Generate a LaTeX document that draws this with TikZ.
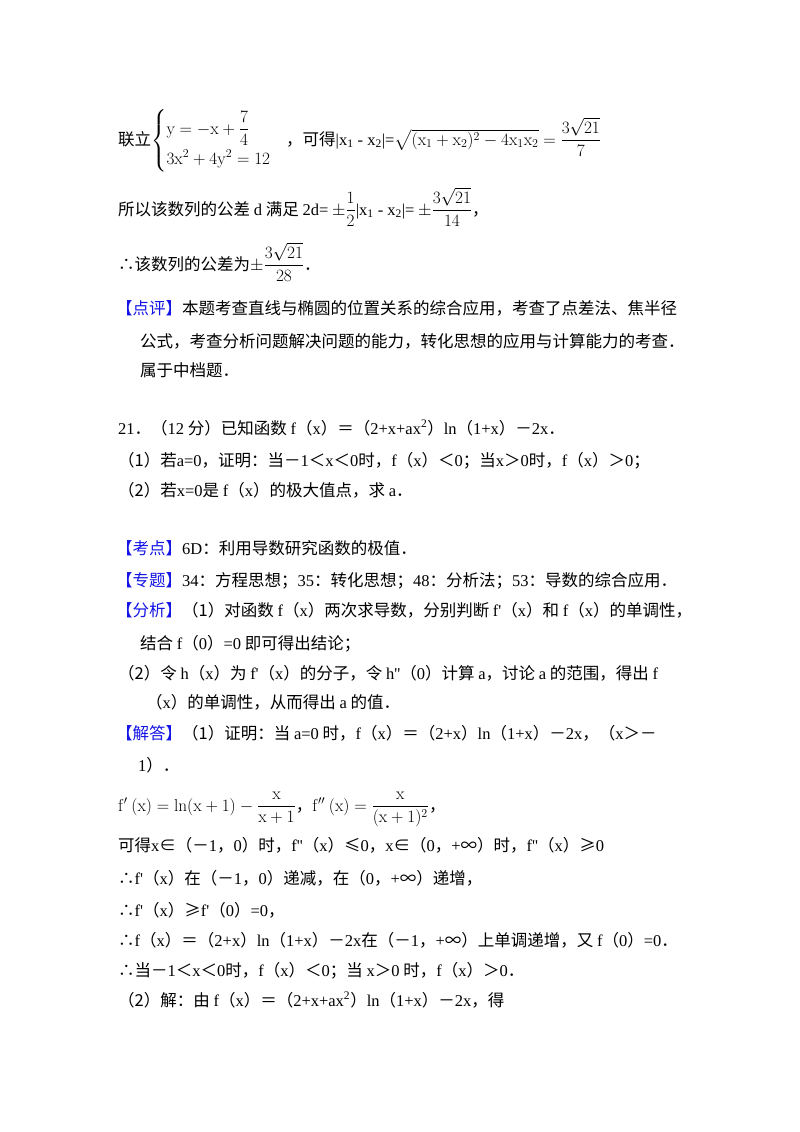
\documentclass[tikz,border=0pt]{standalone}
\usepackage{amsmath}
\usepackage[no-math]{fontspec}
\setmainfont{Noto Sans CJK SC}
\newfontfamily\en{Liberation Serif}
\newcommand{\E}[1]{{\en #1}}
\definecolor{tagblue}{RGB}{20,20,230}
\newcommand{\tg}[1]{\textcolor{tagblue}{【#1】}}
\begin{document}
\begin{tikzpicture}[x=1pt,y=-1pt,
  ln/.style={anchor=base west,inner sep=0pt,font=\fontsize{16.5}{20}\selectfont}]
\useasboundingbox[fill=white] (0,0) rectangle (800,1132);
\node[ln] (l1) at (118,145) {联立$\left\{\begin{array}{@{}l}\mathrm{y}=-\mathrm{x}+\dfrac{7}{4}\\[10pt] 3\mathrm{x}^2+4\mathrm{y}^2=12\end{array}\right.$\hspace{0.6em}，可得\E{|x\textsubscript{1} - x\textsubscript{2}|=}$\sqrt{(\mathrm{x}_1+\mathrm{x}_2)^2-4\mathrm{x}_1\mathrm{x}_2}=\dfrac{3\sqrt{21}}{7}$};
\node[ln] (l2) at (118,215) {所以该数列的公差 \E{d} 满足 \E{2d=} $\pm\dfrac{1}{2}$\E{|x\textsubscript{1} - x\textsubscript{2}|=} $\pm\dfrac{3\sqrt{21}}{14}$，};
\node[ln] (l3) at (118,270) {∴该数列的公差为$\pm\dfrac{3\sqrt{21}}{28}$．};
\node[ln] (l4) at (116,314) {\tg{点评}本题考查直线与椭圆的位置关系的综合应用，考查了点差法、焦半径};
\node[ln] (l5) at (140,347) {公式，考查分析问题解决问题的能力，转化思想的应用与计算能力的考查．};
\node[ln] (l6) at (140,376) {属于中档题．};
\node[ln] (l7) at (118,434) {\E{21}．（\E{12} 分）已知函数 \E{f}（\E{x}）＝（\E{2+x+ax\textsuperscript{2}}）\E{ln}（\E{1+x}）－\E{2x}．};
\node[ln] (l8) at (118,466) {（1）若\E{a=0}，证明：当－\E{1}＜\E{x}＜\E{0}时，\E{f}（\E{x}）＜\E{0}；当\E{x}＞\E{0}时，\E{f}（\E{x}）＞\E{0}；};
\node[ln] (l9) at (118,496) {（2）若\E{x=0}是 \E{f}（\E{x}）的极大值点，求 \E{a}．};
\node[ln] (l10) at (116,554) {\tg{考点}\E{6D}：利用导数研究函数的极值．};
\node[ln] (l11) at (116,586) {\tg{专题}\E{34}：方程思想；\E{35}：转化思想；\E{48}：分析法；\E{53}：导数的综合应用．};
\node[ln] (l12) at (116,616) {\tg{分析}（1）对函数 \E{f}（\E{x}）两次求导数，分别判断 \E{f'}（\E{x}）和 \E{f}（\E{x}）的单调性，};
\node[ln] (l13) at (140,649) {结合 \E{f}（\E{0}）\E{=0} 即可得出结论；};
\node[ln] (l14) at (118,679) {（2）令 \E{h}（\E{x}）为 \E{f'}（\E{x}）的分子，令 \E{h''}（\E{0}）计算 \E{a}，讨论 \E{a} 的范围，得出 \E{f}};
\node[ln] (l15) at (146,708) {（\E{x}）的单调性，从而得出 \E{a} 的值．};
\node[ln] (l16) at (116,739) {\tg{解答}（1）证明：当 \E{a=0} 时，\E{f}（\E{x}）＝（\E{2+x}）\E{ln}（\E{1+x}）－\E{2x}，（\E{x}＞－};
\node[ln] (l17) at (138,771) {\E{1}）．};
\node[ln] (l18) at (118,811) {$\mathrm{f}'\ (\mathrm{x})=\mathrm{ln}(\mathrm{x}+1)-\dfrac{\mathrm{x}}{\mathrm{x}+1}$，$\mathrm{f}''\ (\mathrm{x})=\dfrac{\mathrm{x}}{(\mathrm{x}+1)^2}$，};
\node[ln] (l19) at (118,851) {可得\E{x}∈（－\E{1}，\E{0}）时，\E{f''}（\E{x}）≤\E{0}，\E{x}∈（\E{0}，\E{+}∞）时，\E{f''}（\E{x}）≥\E{0}};
\node[ln] (l20) at (118,884) {∴\E{f'}（\E{x}）在（－\E{1}，\E{0}）递减，在（\E{0}，\E{+}∞）递增，};
\node[ln] (l21) at (118,916) {∴\E{f'}（\E{x}）≥\E{f'}（\E{0}）\E{=0}，};
\node[ln] (l22) at (118,946) {∴\E{f}（\E{x}）＝（\E{2+x}）\E{ln}（\E{1+x}）－\E{2x}在（－\E{1}，\E{+}∞）上单调递增，又 \E{f}（\E{0}）\E{=0}．};
\node[ln] (l23) at (118,976) {∴当－\E{1}＜\E{x}＜\E{0}时，\E{f}（\E{x}）＜\E{0}；当 \E{x}＞\E{0} 时，\E{f}（\E{x}）＞\E{0}．};
\node[ln] (l24) at (118,1006) {（2）解：由 \E{f}（\E{x}）＝（\E{2+x+ax\textsuperscript{2}}）\E{ln}（\E{1+x}）－\E{2x}，得};
\end{tikzpicture}
\end{document}
